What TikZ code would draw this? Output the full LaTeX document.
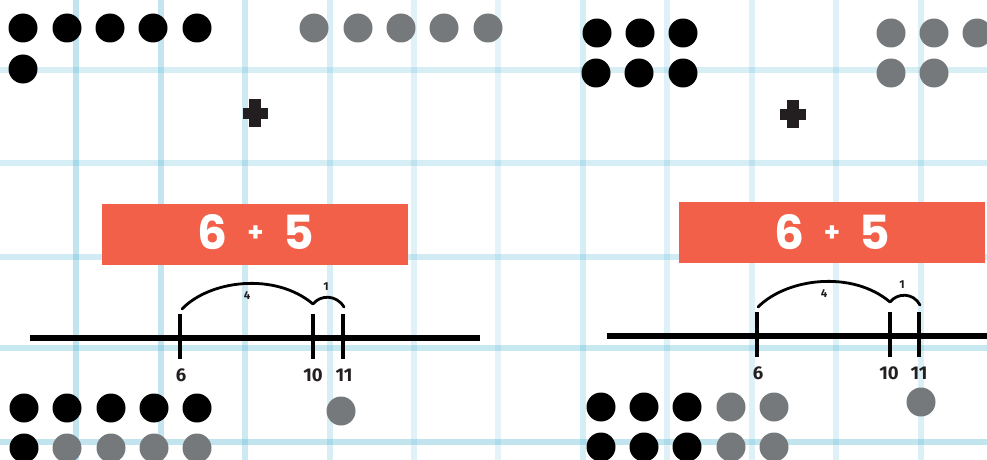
\documentclass[tikz,border=0pt]{standalone}
\usepackage{fontspec}
\newfontfamily\boxfont{Poppins}
\newfontfamily\labfont[Numbers=Proportional]{Fira Sans}
\definecolor{gridblue}{HTML}{5BB8D6}
\definecolor{boxred}{HTML}{F26049}
\definecolor{dotgray}{HTML}{76797B}
\definecolor{plusink}{HTML}{231F20}
\tikzset{
  gridline/.style={draw=gridblue, line width=6pt, draw opacity=#1},
  blackdot/.style={circle, fill=black, minimum size=29pt, inner sep=0pt},
  graydot/.style={circle, fill=dotgray, minimum size=29pt, inner sep=0pt},
  sumbox/.style={fill=boxred, minimum width=306pt, minimum height=61pt, inner sep=0pt},
  sumtext/.style={text=white, font=\boxfont\bfseries\fontsize{47}{47}\selectfont, inner sep=0pt},
  numline/.style={line width=5.5pt, draw=black},
  tickmark/.style={line width=4pt, draw=black},
  ticklabel/.style={font=\labfont\bfseries\fontsize{18.5}{18.5}\selectfont, text=plusink, inner sep=0pt},
  jump/.style={line width=2.8pt, line cap=round, draw=black},
  jumplabel/.style={font=\labfont\bfseries\fontsize{11.5}{11.5}\selectfont, text=plusink, inner sep=0pt},
  plussign/.style={fill=plusink},
}
\newcommand{\sumlabel}{\makebox[0pt]{6}\hspace{43pt}\makebox[0pt]{\raisebox{8pt}{\fontsize{26}{26}\selectfont +}}\hspace{43pt}\makebox[0pt]{5}}
\begin{document}
\begin{tikzpicture}[x=1pt,y=-1pt]
\useasboundingbox (0,0) rectangle (987,460);
\clip (0,0) rectangle (987,460);
% grid
\foreach \gx/\op in {76/0.38,161/0.36,245/0.3,330/0.24,414/0.19,498/0.17,583/0.26,667/0.2,752/0.2,836/0.2,921/0.22}
  \draw[gridline=\op] (\gx,-5) -- (\gx,465);
\foreach \gy/\op in {70/0.24,163/0.26,257/0.28,348/0.34,442/0.38}
  \draw[gridline=\op] (-5,\gy) -- (992,\gy);

% ---------- left panel ----------
\foreach \i/\px/\py in {1/23/28,2/67/28,3/110/28,4/153/28,5/197/28,6/23/69}
  \node[blackdot] (LTb\i) at (\px,\py) {};
\foreach \i/\px in {1/314,2/358,3/401,4/444,5/488}
  \node[graydot] (LTg\i) at (\px,28) {};
\fill[plussign] (249,99) rectangle (261,127);
\fill[plussign] (243,107.5) rectangle (268,119);
\node[sumbox] (Lbox) at (255,234.5) {};
\node[sumtext] (Lsum) at (255.5,232) {\sumlabel};
\coordinate (LnlA) at (30,338);
\coordinate (LnlB) at (480,338);
\draw[numline] (LnlA) -- (LnlB);
\foreach \n/\tx in {6/180,10/313,11/343}{
  \coordinate (Lt\n a) at (\tx,314);
  \coordinate (Lt\n b) at (\tx,359);
  \draw[tickmark] (Lt\n a) -- (Lt\n b);
}
\node[ticklabel] (Ll6) at (181,375) {6};
\node[ticklabel] (Ll10) at (313,375) {10};
\node[ticklabel] (Ll11) at (344,375) {11};
\coordinate (Lj1) at (182,309);
\coordinate (Lj2) at (313,304);
\coordinate (Lj3) at (344,307);
\draw[jump] (Lj1) .. controls (210,280) and (275,272) .. (Lj2);
\draw[jump] (Lj2) .. controls (320,295) and (336,294) .. (Lj3);
\node[jumplabel] (Lk4) at (247,296) {4};
\node[jumplabel] (Lk1) at (326,287) {1};
\foreach \i/\px in {1/24,2/67,3/111,4/154,5/197}
  \node[blackdot] (LBb\i) at (\px,408) {};
\node[blackdot] (LBc1) at (24,448) {};
\foreach \i/\px in {2/67,3/111,4/154,5/197}
  \node[graydot] (LBg\i) at (\px,448) {};
\node[graydot] (LBs) at (341,411) {};

% ---------- right panel ----------
\foreach \i/\px/\py in {1/597/33,2/640/33,3/683/33,4/596/73,5/639/73,6/683/73}
  \node[blackdot] (RTb\i) at (\px,\py) {};
\foreach \i/\px/\py in {1/891/33,2/934/33,3/977/33,4/891/73,5/934/73}
  \node[graydot] (RTg\i) at (\px,\py) {};
\fill[plussign] (787,100) rectangle (799,128);
\fill[plussign] (780,109) rectangle (806,119.5);
\node[sumbox] (Rbox) at (832,232.5) {};
\node[sumtext] (Rsum) at (832,232) {\sumlabel};
\coordinate (RnlA) at (607,336);
\coordinate (RnlB) at (1000,336);
\draw[numline] (RnlA) -- (RnlB);
\foreach \n/\tx in {6/757,10/890,11/919}{
  \coordinate (Rt\n a) at (\tx,312);
  \coordinate (Rt\n b) at (\tx,357);
  \draw[tickmark] (Rt\n a) -- (Rt\n b);
}
\node[ticklabel] (Rl6) at (758,373) {6};
\node[ticklabel] (Rl10) at (889,373) {10};
\node[ticklabel] (Rl11) at (919,373) {11};
\coordinate (Rj1) at (758,307);
\coordinate (Rj2) at (890,302);
\coordinate (Rj3) at (920,305);
\draw[jump] (Rj1) .. controls (787,278) and (852,270) .. (Rj2);
\draw[jump] (Rj2) .. controls (897,293) and (913,292) .. (Rj3);
\node[jumplabel] (Rk4) at (824,294) {4};
\node[jumplabel] (Rk1) at (902,285) {1};
\foreach \i/\px in {1/601,2/644,3/687}{
  \node[blackdot] (RBb\i) at (\px,407) {};
  \node[blackdot] (RBc\i) at (\px,447) {};
}
\foreach \i/\px in {4/731,5/774}{
  \node[graydot] (RBg\i) at (\px,407) {};
  \node[graydot] (RBh\i) at (\px,447) {};
}
\node[graydot] (RBs) at (921,402) {};
\end{tikzpicture}
\end{document}
